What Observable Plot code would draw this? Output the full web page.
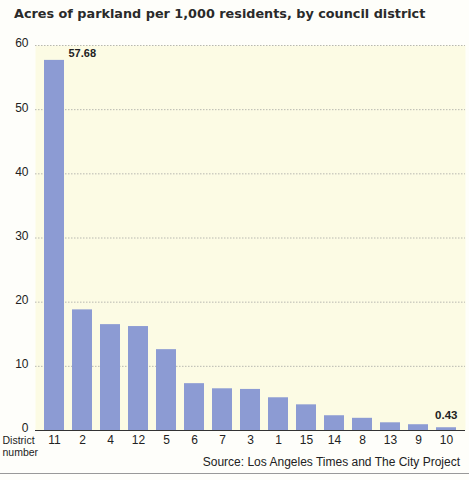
<!DOCTYPE html>
<html>
<head>
<meta charset="utf-8">
<script src="https://cdn.jsdelivr.net/npm/d3@7"></script>
<script src="https://cdn.jsdelivr.net/npm/@observablehq/plot@0.6"></script>
<style>
  body { margin: 0; background: #fefefa; font-family: "Liberation Sans", Arial, sans-serif; }
  #wrap { position: relative; width: 469px; height: 480px; overflow: hidden; }
  #title { position: absolute; left: 14px; top: 6px; font-family: "DejaVu Sans", Verdana, sans-serif; font-weight: bold; font-size: 12.8px; color: #2a2a2a; }
  #chart { position: absolute; left: 0; top: 32px; }
  #source { position: absolute; right: 9px; top: 455px; font-size: 12px; color: #222; }
  #rule { position: absolute; left: 0; right: 0; top: 473px; border-top: 1px solid #999; }
</style>
</head>
<body>
<div id="wrap">
  <div id="title">Acres of parkland per 1,000 residents, by council district</div>
  <div id="chart"></div>
  <div id="source">Source: Los Angeles Times and The City Project</div>
  <div id="rule"></div>
</div>
<script>
// Council districts, ordered by parkland per 1,000 residents
const districts = ["11", "2", "4", "12", "5", "6", "7", "3", "1", "15", "14", "8", "13", "9", "10"];
const acres = [57.68, 18.8, 16.5, 16.2, 12.6, 7.3, 6.5, 6.4, 5.1, 4.0, 2.3, 1.9, 1.2, 0.9, 0.43];
const yTicks = [0, 10, 20, 30, 40, 50, 60];

const data = districts.map((d, i) => ({district: d, acres: acres[i]}));
const first = data[0];
const last = data[data.length - 1];

const barColor = "#8c9bd3";

const chart = Plot.plot({
  width: 469,
  height: 440,
  marginTop: 13,
  marginLeft: 36,
  marginRight: 6,
  marginBottom: 42,
  style: {fontFamily: "Liberation Sans, Arial, sans-serif", fontSize: "11.5px", color: "#222", background: "transparent"},
  x: {domain: districts, paddingInner: 0.3, paddingOuter: 0.15, label: null},
  y: {domain: [0, 60], ticks: yTicks, label: null},
  marks: [
    Plot.frame({fill: "#fcfbe4", stroke: "none", insetLeft: -1, insetRight: -2}),
    Plot.ruleY(yTicks.filter(t => t > 0), {stroke: "#b8b8b0", strokeDasharray: "1.5,1.5", strokeWidth: 1, insetLeft: -1, insetRight: -2}),
    Plot.barY(data, {x: "district", y: "acres", fill: barColor}),
    Plot.ruleY([0], {stroke: "#333", strokeWidth: 1, insetLeft: -1, insetRight: -2}),
    Plot.axisY({ticks: yTicks, tickSize: 0, tickPadding: 8, fontSize: 12, dy: -2, label: null}),
    Plot.axisX({tickSize: 0, tickPadding: 5, fontSize: 12, label: null}),
    Plot.text([first], {x: "district", y: "acres", text: d => d.acres.toFixed(2), textAnchor: "start", dx: 14, dy: -7, fontWeight: "bold", fontSize: 11, fill: "#222"}),
    Plot.text([last], {x: "district", y: "acres", text: d => d.acres.toFixed(2), textAnchor: "end", dx: 11, dy: -12, fontWeight: "bold", fontSize: 11.5, fill: "#222"}),
    Plot.text(["District\nnumber"], {frameAnchor: "bottom-left", text: d => d, textAnchor: "start", lineAnchor: "top", dx: -34, dy: 5, fontSize: 10.5, lineHeight: 1.15, fill: "#222"})
  ]
});
document.getElementById("chart").appendChild(chart);
</script>
</body>
</html>
